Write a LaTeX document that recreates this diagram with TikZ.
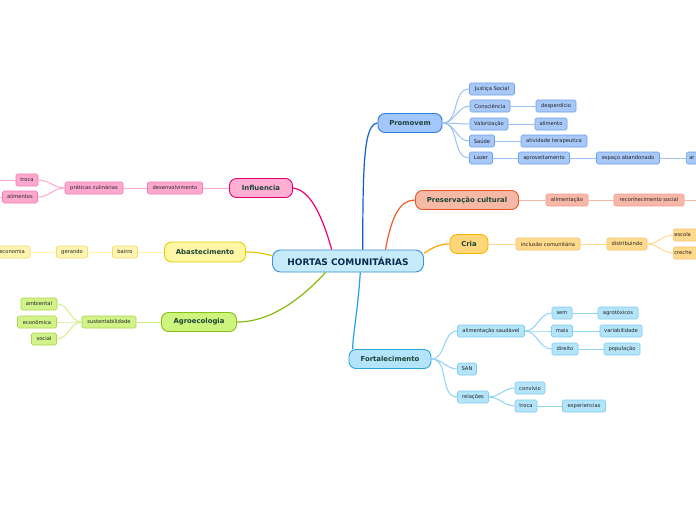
\documentclass[tikz,border=0pt]{standalone}
\usepackage{fontspec}
\setmainfont{DejaVu Sans}
\definecolor{cenF}{HTML}{C6EBFA}\definecolor{cenD}{HTML}{3D8FD6}\definecolor{cenT}{HTML}{0D2A4D}
\definecolor{topT}{HTML}{1B4436}\definecolor{subT}{HTML}{222222}
\definecolor{proF}{HTML}{A3C6FB}\definecolor{proD}{HTML}{2F7DE0}\definecolor{proSF}{HTML}{A8C8F8}\definecolor{proSD}{HTML}{6FA0EC}\definecolor{proL}{HTML}{0A5FD6}\definecolor{proSL}{HTML}{9DC0F2}
\definecolor{preF}{HTML}{F6B9A6}\definecolor{preD}{HTML}{E9572C}\definecolor{preSF}{HTML}{F8B8A8}\definecolor{preSD}{HTML}{EEA08C}\definecolor{preL}{HTML}{F05A28}\definecolor{preSL}{HTML}{F7B7A6}
\definecolor{criF}{HTML}{FFD77A}\definecolor{criD}{HTML}{F7B500}\definecolor{criSF}{HTML}{FFD98C}\definecolor{criSD}{HTML}{F3C46A}\definecolor{criL}{HTML}{FFA700}\definecolor{criSL}{HTML}{FFD98C}
\definecolor{forF}{HTML}{B4E4FA}\definecolor{forD}{HTML}{2AA6DF}\definecolor{forSF}{HTML}{B4E4FA}\definecolor{forSD}{HTML}{80CDF0}\definecolor{forL}{HTML}{1DA1E6}\definecolor{forSL}{HTML}{8FD3F5}
\definecolor{infF}{HTML}{FFB0D2}\definecolor{infD}{HTML}{E5006B}\definecolor{infSF}{HTML}{FFA8CF}\definecolor{infSD}{HTML}{F07CB2}\definecolor{infL}{HTML}{F00070}\definecolor{infSL}{HTML}{FFA8CF}
\definecolor{abaF}{HTML}{FFF6A6}\definecolor{abaD}{HTML}{E6CD00}\definecolor{abaSF}{HTML}{FFF4B0}\definecolor{abaSD}{HTML}{F0DF70}\definecolor{abaL}{HTML}{E4C900}\definecolor{abaSL}{HTML}{FFF0A0}
\definecolor{agrF}{HTML}{CDF57D}\definecolor{agrD}{HTML}{88BF18}\definecolor{agrSF}{HTML}{D2F38A}\definecolor{agrSD}{HTML}{A8D84A}\definecolor{agrL}{HTML}{86BB0E}\definecolor{agrSL}{HTML}{D2F08A}
\tikzset{
  topic/.style={draw, rounded corners=7pt, line width=0.9pt, minimum height=19pt, inner sep=1pt,
     font=\fontsize{6.9}{7.5}\selectfont\bfseries, text=topT},
  sub/.style={draw, rounded corners=1.5pt, line width=0.6pt, minimum height=12pt, inner sep=1pt,
     font=\fontsize{5.2}{6}\selectfont, text=subT},
  mainline/.style={line width=1.2pt},
  subline/.style={line width=1pt},
}
\begin{document}
\begin{tikzpicture}[x=1pt,y=-1pt]
\useasboundingbox[fill=white] (0,0) rectangle (696,520);

% center
\node[draw=cenD, fill=cenF, line width=0.9pt, rounded corners=8pt, minimum width=151pt, minimum height=22pt,
  font=\fontsize{9}{10}\selectfont\bfseries, text=cenT] (c) at (348,261) {HORTAS COMUNITÁRIAS};

% topics
\node[topic, draw=proD, fill=proF, minimum width=64pt] (pro) at (410,123) {Promovem};
\node[topic, draw=preD, fill=preF, minimum width=103pt] (pre) at (467,200) {Preservação cultural};
\node[topic, draw=criD, fill=criF, minimum width=38pt] (cri) at (469,244) {Cria};
\node[topic, draw=forD, fill=forF, minimum width=82pt] (for) at (390,359) {Fortalecimento};
\node[topic, draw=infD, fill=infF, minimum width=63pt] (inf) at (261,188) {Influencia};
\node[topic, draw=abaD, fill=abaF, minimum width=81pt, minimum height=20pt] (aba) at (205,252) {Abastecimento};
\node[topic, draw=agrD, fill=agrF, minimum width=75pt] (agr) at (199,322) {Agroecologia};

% main connectors
\draw[mainline, proL] (c.38) .. controls (363,160) and (364,125) .. (pro.west);
\draw[mainline, preL] (c.17) .. controls (392,215) and (400,200) .. (pre.west);
\draw[mainline, criL] (c.6) .. controls (436,246) and (440,244) .. (cri.west);
\draw[mainline, forL] (c.-43) .. controls (358,310) and (352,340) .. (for.165);
\draw[mainline, infL] (c.145) .. controls (322,215) and (310,190) .. (inf.east);
\draw[mainline, abaL] (c.176) .. controls (262,253) and (255,252) .. (aba.east);
\draw[mainline, agrL] (c.207) .. controls (300,300) and (270,322) .. (agr.east);

% Promovem
\begin{scope}[every node/.style={sub, draw=proSD, fill=proSF}]
\node[minimum width=45pt] (js) at (492,89) {Justiça Social};
\node[minimum width=40pt] (con) at (490,106) {Consciência};
\node[minimum width=38pt] (val) at (489,124) {Valorização};
\node[minimum width=25pt] (sau) at (482,141) {Saúde};
\node[minimum width=23pt] (laz) at (481,158) {Lazer};
\node[minimum width=40pt] (des) at (556,106) {desperdício};
\node[minimum width=32pt] (ali) at (551,124) {alimento};
\node[minimum width=66pt] (ati) at (554,141) {atividade terapeutica};
\node[minimum width=51pt] (apr) at (544,158) {aproveitamento};
\node[minimum width=63pt] (esp) at (628,158) {espaço abandonado};
\node[minimum width=40pt, anchor=west, align=left, text width=34pt] (ar) at (686,158) {ar};
\end{scope}
\begin{scope}[subline, proSL]
\foreach \n in {js,con,val,sau,laz} \draw (pro.east) to[out=0,in=180] (\n.west);
\draw (con) -- (des); \draw (val) -- (ali); \draw (sau) -- (ati);
\draw (laz) -- (apr); \draw (apr) -- (esp); \draw (esp) -- (ar);
\end{scope}

% Preservação
\begin{scope}[every node/.style={sub, draw=preSD, fill=preSF}]
\node[minimum width=42pt] (pal) at (567,200) {alimentação};
\node[minimum width=70pt] (rec) at (649,200) {reconhecimento social};
\end{scope}
\coordinate (recx) at (700,200);
\begin{scope}[subline, preSL]
\draw (pre) -- (pal); \draw (pal) -- (rec); \draw (rec) -- (recx);
\end{scope}

% Cria
\begin{scope}[every node/.style={sub, draw=criSD, fill=criSF}]
\node[minimum width=64pt] (inc) at (548,244) {inclusão comunitária};
\node[minimum width=40pt] (dis) at (627,244) {distribuindo};
\node[anchor=west, align=left, text width=34pt] (esc) at (673,235) {escola};
\node[anchor=west, align=left, text width=34pt] (cre) at (673,253) {creche};
\end{scope}
\begin{scope}[subline, criSL]
\draw (cri) -- (inc); \draw (inc) -- (dis);
\draw (dis.east) to[out=0,in=180] (esc.west);
\draw (dis.east) to[out=0,in=180] (cre.west);
\end{scope}

% Fortalecimento
\begin{scope}[every node/.style={sub, draw=forSD, fill=forSF}]
\node[minimum width=67pt] (as) at (491,331) {alimentação saudável};
\node[minimum width=20pt] (sem) at (562,313) {sem};
\node[minimum width=21pt] (mai) at (562,331) {mais};
\node[minimum width=26pt] (dir) at (565,349) {direito};
\node[minimum width=40pt] (agt) at (618,313) {agrotóxicos};
\node[minimum width=42pt] (var) at (621,331) {variabilidade};
\node[minimum width=36pt] (pop) at (622,349) {população};
\node[minimum width=19pt] (san) at (467,369) {SAN};
\node[minimum width=31pt] (rel) at (473,397) {relações};
\node[minimum width=30pt] (cvv) at (530,388) {convívio};
\node[minimum width=22pt] (ftr) at (526,406) {troca};
\node[minimum width=43pt] (exp) at (584,406) {experiencias};
\end{scope}
\begin{scope}[subline, forSL]
\foreach \n in {as,san,rel} \draw (for.east) to[out=0,in=180] (\n.west);
\foreach \n in {sem,mai,dir} \draw (as.east) to[out=0,in=180] (\n.west);
\draw (sem) -- (agt); \draw (mai) -- (var); \draw (dir) -- (pop);
\foreach \n in {cvv,ftr} \draw (rel.east) to[out=0,in=180] (\n.west);
\draw (ftr) -- (exp);
\end{scope}

% Influencia
\begin{scope}[every node/.style={sub, draw=infSD, fill=infSF}]
\node[minimum width=55pt] (dev) at (175,188) {desenvolvimento};
\node[minimum width=58pt] (pc) at (94,188) {práticas culinárias};
\node[minimum width=22pt] (itr) at (27,180) {troca};
\node[minimum width=35pt] (ial) at (20,197) {alimentos};
\end{scope}
\coordinate (itrx) at (-4,180);
\coordinate (ialx) at (-4,197);
\begin{scope}[subline, infSL]
\draw (inf) -- (dev); \draw (dev) -- (pc);
\draw (pc.west) to[out=180,in=0] (itr.east);
\draw (pc.west) to[out=180,in=0] (ial.east);
\draw (itr) -- (itrx); \draw (ial) -- (ialx);
\end{scope}

% Abastecimento
\begin{scope}[every node/.style={sub, draw=abaSD, fill=abaSF}]
\node[minimum width=25pt] (bai) at (125,252) {bairro};
\node[minimum width=31pt] (ger) at (72,252) {gerando};
\node[minimum width=36pt] (eco) at (12,252) {economia};
\end{scope}
\begin{scope}[subline, abaSL]
\draw (aba) -- (bai); \draw (bai) -- (ger); \draw (ger) -- (eco);
\end{scope}

% Agroecologia
\begin{scope}[every node/.style={sub, draw=agrSD, fill=agrSF}]
\node[minimum width=54pt] (sus) at (109,322) {sustentabilidade};
\node[minimum width=36pt] (amb) at (39,304) {ambiental};
\node[minimum width=39pt] (ecn) at (37,322) {econômica};
\node[minimum width=25pt] (soc) at (44,339) {social};
\end{scope}
\begin{scope}[subline, agrSL]
\draw (agr) -- (sus);
\foreach \n in {amb,ecn,soc} \draw (sus.west) to[out=180,in=0] (\n.east);
\end{scope}
\end{tikzpicture}
\end{document}
